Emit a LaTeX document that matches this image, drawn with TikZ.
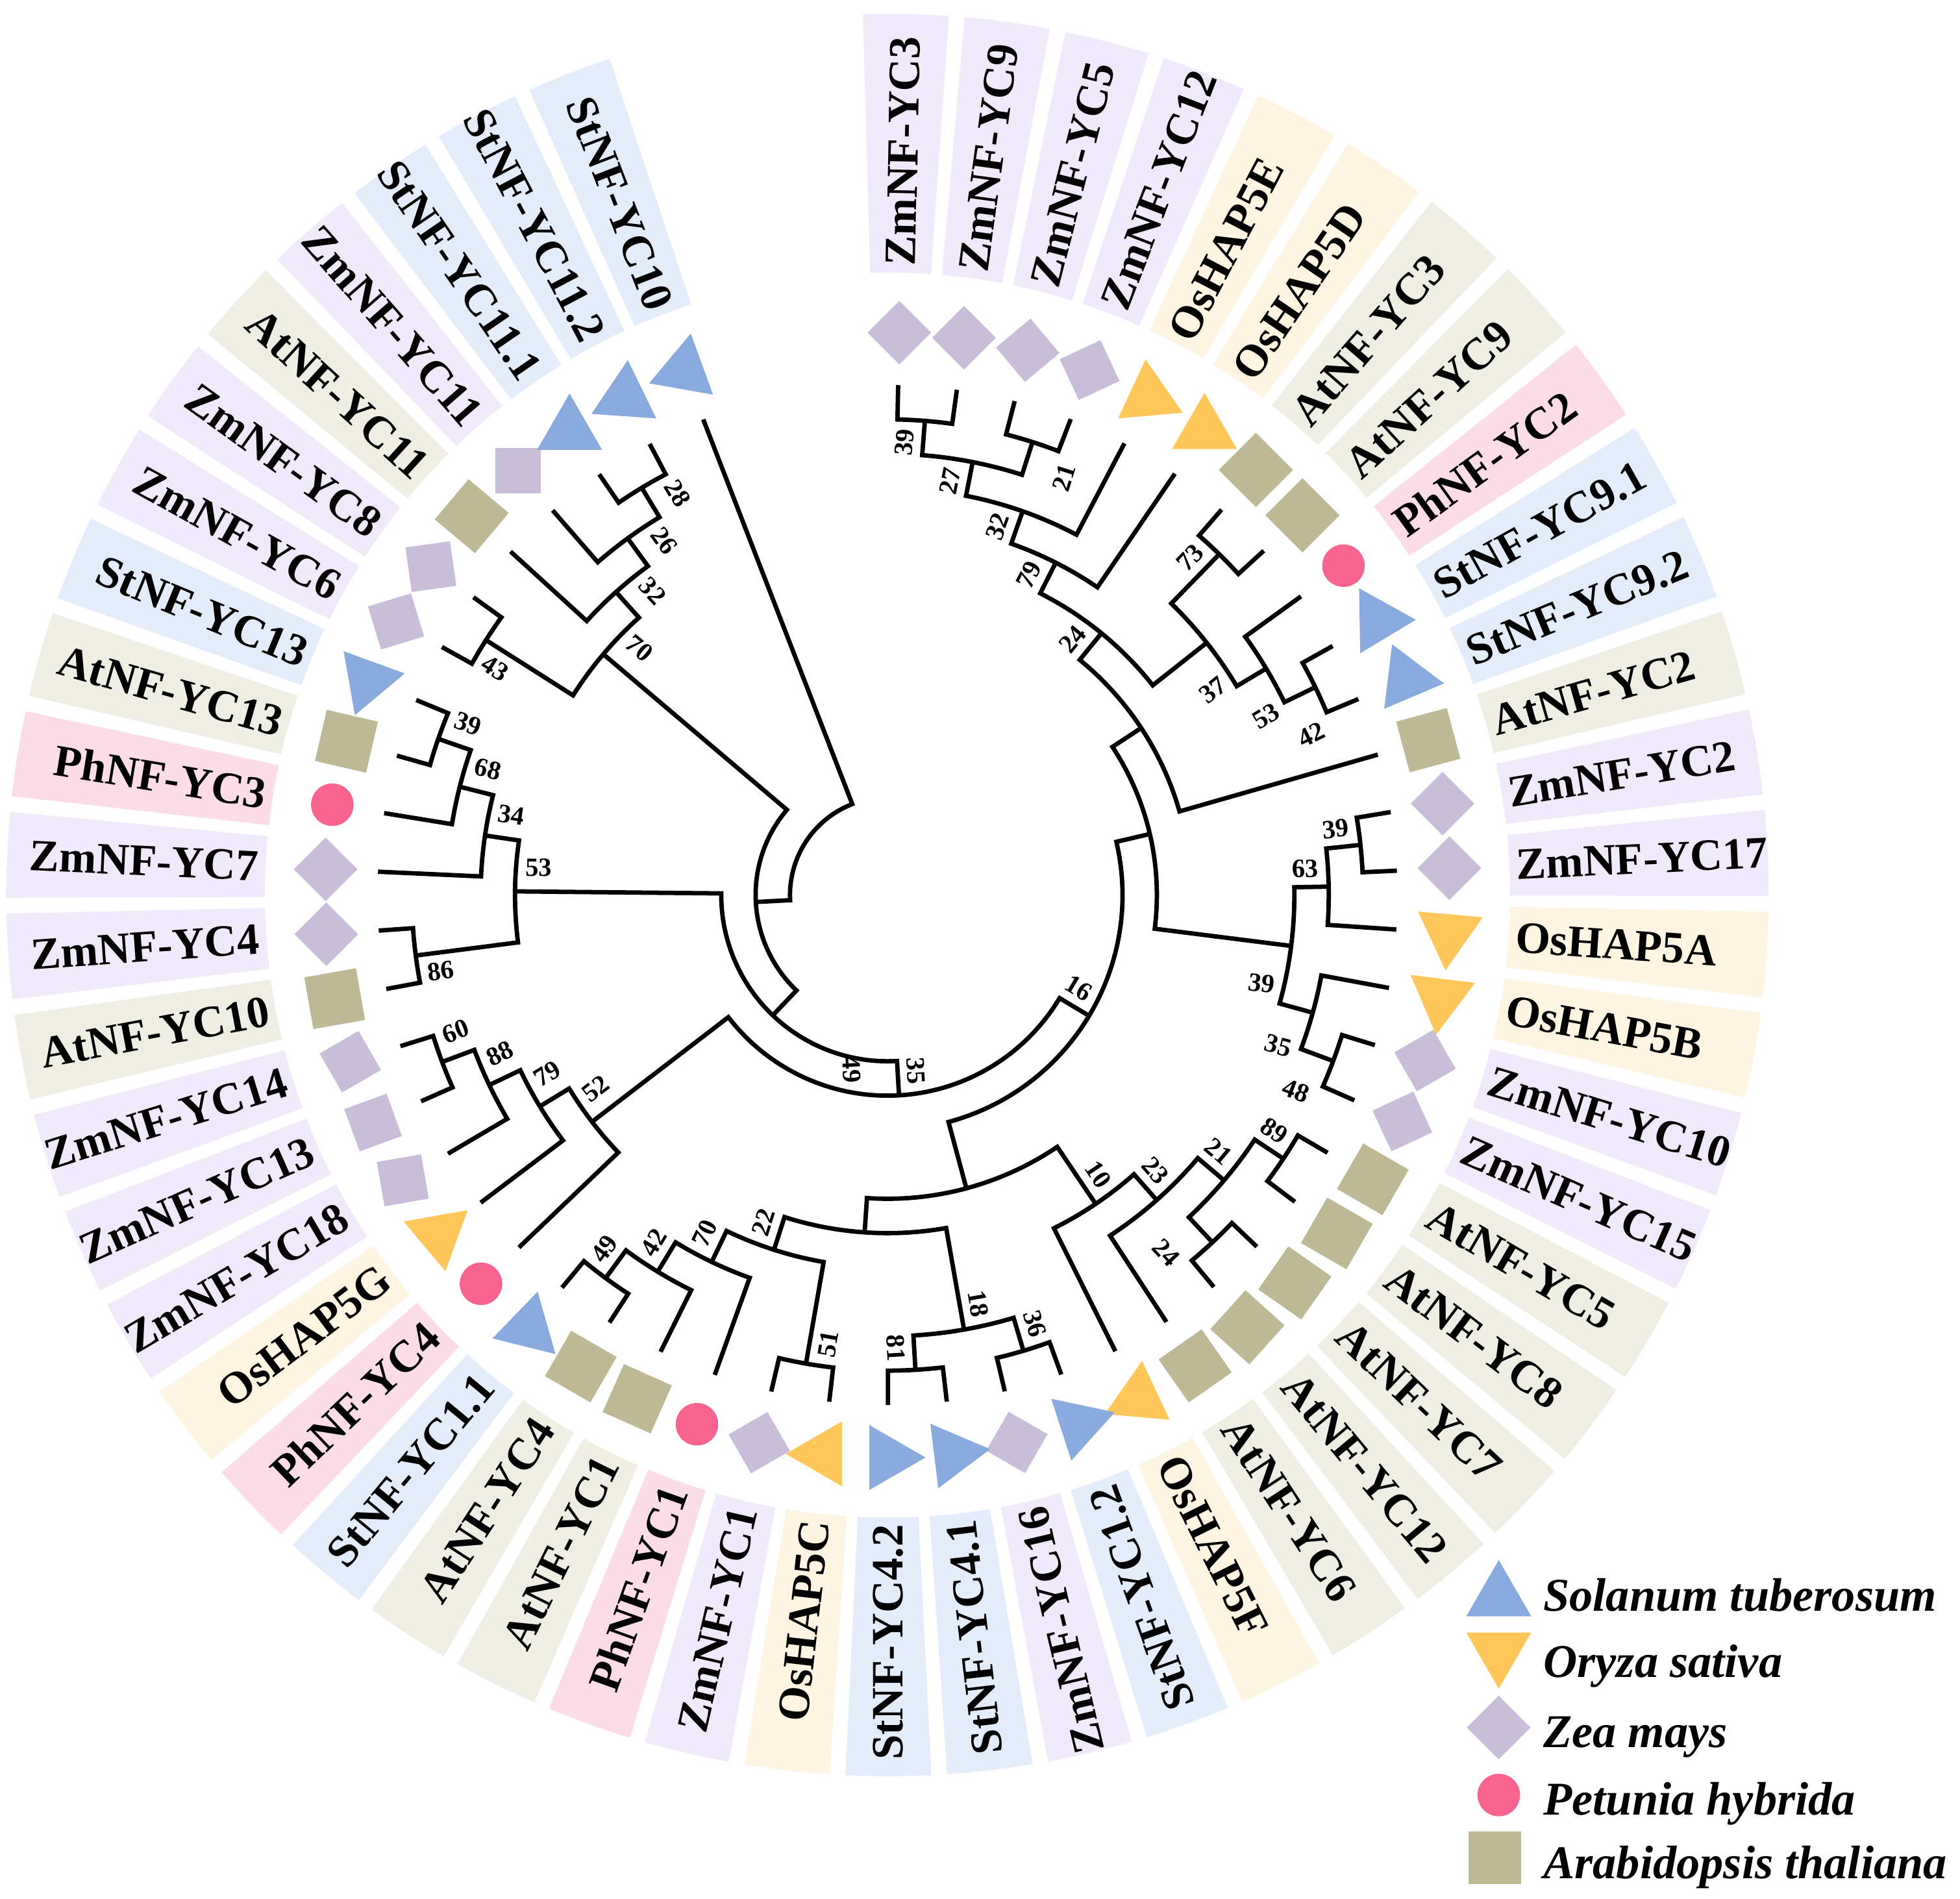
\documentclass[tikz,border=0pt]{standalone}
\usepackage{fontspec}
\setmainfont{Liberation Serif}
\usetikzlibrary{shapes.geometric}

% species colours (marker / label background)
\definecolor{stfill}{HTML}{88AADD}
\definecolor{osfill}{HTML}{FFC75A}
\definecolor{zmfill}{HTML}{C8BEDA}
\definecolor{phfill}{HTML}{F9638F}
\definecolor{atfill}{HTML}{BEB995}
\definecolor{stback}{HTML}{E3ECF8}
\definecolor{osback}{HTML}{FEF4E2}
\definecolor{zmback}{HTML}{EFE9F9}
\definecolor{phback}{HTML}{FBDCE7}
\definecolor{atback}{HTML}{EEEEE5}

\tikzset{
  branch/.style={line width=1pt},
  Stmark/.style={regular polygon, regular polygon sides=3, fill=stfill, minimum size=6mm, inner sep=0pt},
  Osmark/.style={regular polygon, regular polygon sides=3, shape border rotate=180, fill=osfill, minimum size=6mm, inner sep=0pt},
  Zmmark/.style={rectangle, fill=zmfill, minimum size=3.6mm, inner sep=0pt},
  Atmark/.style={rectangle, fill=atfill, minimum size=4.2mm, inner sep=0pt},
  Phmark/.style={circle, fill=phfill, minimum size=3.4mm, inner sep=0pt},
  Stback/.style={fill=stback},
  Osback/.style={fill=osback},
  Zmback/.style={fill=zmback},
  Phback/.style={fill=phback},
  Atback/.style={fill=atback},
  leaflab/.style={font=\fontsize{10.2}{12}\selectfont\bfseries, inner sep=0pt},
  bootlab/.style={font=\fontsize{6}{7}\selectfont\bfseries, inner sep=0.3pt},
  legtext/.style={font=\fontsize{10.7}{13}\selectfont\bfseries\itshape, anchor=base west, inner sep=0pt}
}

% clade: level, angle of child a, level of a, angle of child b, level of b
% (tips sit at 40.8mm, every level is 2.75mm further in)
\newcommand{\addclade}[5]{%
  \pgfmathsetmacro{\cladeR}{40.8-2.75*#1}%
  \pgfmathsetmacro{\cladeA}{40.8-2.75*#3}%
  \pgfmathsetmacro{\cladeB}{40.8-2.75*#5}%
  \draw[branch] (#2:\cladeA) -- (#2:\cladeR) arc[start angle=#2, end angle=#4, radius=\cladeR mm] -- (#4:\cladeB);%
}

% bootstrap value: name, clade angle, clade level, side (+ ccw / - cw), value
\newcommand{\addboot}[5]{%
  \pgfmathsetmacro{\bootR}{40.8-2.75*#3-1.8}%
  \pgfmathsetmacro{\bootA}{#2+(#4)*85/\bootR}%
  \pgfmathsetmacro{\bootT}{cos(#2)>=0 ? #2 : #2+180}%
  \node[bootlab, rotate=\bootT] (#1) at (\bootA:\bootR) {#5};%
}

% leaf: index, angle, species, name, marker rotation
\newcommand{\addleaf}[5]{%
  \fill[#3back] (#2-2.8:49.8) arc[start angle=#2-2.8, end angle=#2+2.8, radius=49.8mm]
    -- (#2+2.8:70.5) arc[start angle=#2+2.8, end angle=#2-2.8, radius=70.5mm] -- cycle;%
  \node[#3mark, rotate=#5] (m#1) at (#2:45) {};%
  \ifdim #2pt>-67pt
    \node[leaflab, anchor=west, rotate=#2] (t#1) at (#2:50.3) {#4};%
  \else
    \node[leaflab, anchor=east, rotate=#2+180] (t#1) at (#2:50.3) {#4};%
  \fi
}

\begin{document}
\begin{tikzpicture}[x=1mm, y=1mm]
  \useasboundingbox (-71.0,-80.3) rectangle (85.8,71.6);

  % Leaves, clockwise from the top
  \addleaf{1}{88.80}{Zm}{ZmNF-YC3}{45}
  \addleaf{2}{82.18}{Zm}{ZmNF-YC9}{45}
  \addleaf{3}{75.56}{Zm}{ZmNF-YC5}{40}
  \addleaf{4}{68.94}{Zm}{ZmNF-YC12}{25}
  \addleaf{5}{62.32}{Os}{OsHAP5E}{185}
  \addleaf{6}{55.70}{Os}{OsHAP5D}{180}
  \addleaf{7}{49.08}{At}{AtNF-YC3}{45}
  \addleaf{8}{42.46}{At}{AtNF-YC9}{45}
  \addleaf{9}{35.84}{Ph}{PhNF-YC2}{0}
  \addleaf{10}{29.22}{St}{StNF-YC9.1}{-89}
  \addleaf{11}{22.60}{St}{StNF-YC9.2}{-97}
  \addleaf{12}{15.98}{At}{AtNF-YC2}{15}
  \addleaf{13}{9.36}{Zm}{ZmNF-YC2}{45}
  \addleaf{14}{2.74}{Zm}{ZmNF-YC17}{45}
  \addleaf{15}{-3.88}{Os}{OsHAP5A}{-5}
  \addleaf{16}{-10.50}{Os}{OsHAP5B}{-7}
  \addleaf{17}{-17.12}{Zm}{ZmNF-YC10}{30}
  \addleaf{18}{-23.74}{Zm}{ZmNF-YC15}{25}
  \addleaf{19}{-30.36}{At}{AtNF-YC5}{60}
  \addleaf{20}{-36.98}{At}{AtNF-YC8}{60}
  \addleaf{21}{-43.60}{At}{AtNF-YC7}{55}
  \addleaf{22}{-50.22}{At}{AtNF-YC12}{48}
  \addleaf{23}{-56.84}{At}{AtNF-YC6}{35}
  \addleaf{24}{-63.46}{Os}{OsHAP5F}{175}
  \addleaf{25}{-70.08}{St}{StNF-YC1.2}{168}
  \addleaf{26}{-76.70}{Zm}{ZmNF-YC16}{60}
  \addleaf{27}{-83.32}{St}{StNF-YC4.1}{-83}
  \addleaf{28}{-89.94}{St}{StNF-YC4.2}{-90}
  \addleaf{29}{-96.56}{Os}{OsHAP5C}{-90}
  \addleaf{30}{-103.18}{Zm}{ZmNF-YC1}{30}
  \addleaf{31}{-109.80}{Ph}{PhNF-YC1}{0}
  \addleaf{32}{-116.42}{At}{AtNF-YC1}{66}
  \addleaf{33}{-123.04}{At}{AtNF-YC4}{60}
  \addleaf{34}{-129.66}{St}{StNF-YC1.1}{-14}
  \addleaf{35}{-136.28}{Ph}{PhNF-YC4}{0}
  \addleaf{36}{-142.90}{Os}{OsHAP5G}{10}
  \addleaf{37}{-149.52}{Zm}{ZmNF-YC18}{10}
  \addleaf{38}{-156.14}{Zm}{ZmNF-YC13}{20}
  \addleaf{39}{-162.76}{Zm}{ZmNF-YC14}{30}
  \addleaf{40}{-169.38}{At}{AtNF-YC10}{10}
  \addleaf{41}{-176.00}{Zm}{ZmNF-YC4}{45}
  \addleaf{42}{-182.62}{Zm}{ZmNF-YC7}{45}
  \addleaf{43}{-189.24}{Ph}{PhNF-YC3}{0}
  \addleaf{44}{-195.86}{At}{AtNF-YC13}{-13}
  \addleaf{45}{-202.48}{St}{StNF-YC13}{-80}
  \addleaf{46}{-209.10}{Zm}{ZmNF-YC6}{17}
  \addleaf{47}{-215.72}{Zm}{ZmNF-YC8}{8}
  \addleaf{48}{-222.34}{At}{AtNF-YC11}{50}
  \addleaf{49}{-228.96}{Zm}{ZmNF-YC11}{0}
  \addleaf{50}{-235.58}{St}{StNF-YC11.1}{0}
  \addleaf{51}{-242.20}{St}{StNF-YC11.2}{-4}
  \addleaf{52}{-248.82}{St}{StNF-YC10}{-10}

  % Top right clade
  \addclade{1}{88.80}{0}{82.18}{0}      % YC3, YC9
  \addclade{1}{75.56}{0}{68.94}{0}      % YC5, YC12
  \addclade{2}{85.49}{1}{72.25}{1}
  \addclade{3}{78.87}{2}{62.32}{0}      % + OsHAP5E
  \addclade{4}{70.60}{3}{55.70}{0}      % + OsHAP5D
  \addclade{1}{49.08}{0}{42.46}{0}      % AtNF-YC3, YC9
  \addclade{1}{29.22}{0}{22.60}{0}      % StNF-YC9.1, 9.2
  \addclade{2}{35.84}{0}{25.91}{1}      % + PhNF-YC2
  \addclade{3}{45.77}{1}{30.88}{2}
  \addclade{5}{63.15}{4}{38.32}{3}
  \addclade{6}{50.74}{5}{15.98}{0}      % + AtNF-YC2
  % Right clade
  \addclade{1}{9.36}{0}{2.74}{0}        % ZmNF-YC2, YC17
  \addclade{2}{6.05}{1}{-3.88}{0}       % + OsHAP5A
  \addclade{1}{-17.12}{0}{-23.74}{0}    % ZmNF-YC10, YC15
  \addclade{2}{-10.50}{0}{-20.43}{1}    % + OsHAP5B
  \addclade{3}{1.09}{2}{-15.47}{2}
  \addclade{7}{33.36}{6}{-7.19}{3}
  % Bottom right clade
  \addclade{1}{-30.36}{0}{-36.98}{0}    % AtNF-YC5, YC8
  \addclade{1}{-43.60}{0}{-50.22}{0}    % AtNF-YC7, YC12
  \addclade{2}{-33.67}{1}{-46.91}{1}
  \addclade{3}{-40.29}{2}{-56.84}{0}    % + AtNF-YC6
  \addclade{4}{-48.57}{3}{-63.46}{0}    % + OsHAP5F
  % Bottom clade
  \addclade{1}{-70.08}{0}{-76.70}{0}    % StNF-YC1.2, ZmNF-YC16
  \addclade{1}{-83.32}{0}{-89.94}{0}    % StNF-YC4.1, 4.2
  \addclade{2}{-73.39}{1}{-86.63}{1}
  \addclade{1}{-96.56}{0}{-103.18}{0}   % OsHAP5C, ZmNF-YC1
  \addclade{1}{-123.04}{0}{-129.66}{0}  % AtNF-YC4, StNF-YC1.1
  \addclade{2}{-116.42}{0}{-126.35}{1}  % + AtNF-YC1
  \addclade{3}{-109.80}{0}{-121.39}{2}  % + PhNF-YC1
  \addclade{4}{-99.87}{1}{-115.60}{3}
  \addclade{5}{-80.01}{2}{-107.74}{4}
  \addclade{6}{-56.02}{4}{-93.88}{5}
  \addclade{8}{13.09}{7}{-74.95}{6}
  % Lower left clade
  \addclade{1}{-156.14}{0}{-162.76}{0}  % ZmNF-YC13, YC14
  \addclade{2}{-149.52}{0}{-159.45}{1}  % + ZmNF-YC18
  \addclade{3}{-142.90}{0}{-154.49}{2}  % + OsHAP5G
  \addclade{4}{-136.28}{0}{-148.70}{3}  % + PhNF-YC4
  \addclade{9}{-30.93}{8}{-142.49}{4}
  % Left clade
  \addclade{1}{-169.38}{0}{-176.00}{0}  % AtNF-YC10, ZmNF-YC4
  \addclade{1}{-195.86}{0}{-202.48}{0}  % AtNF-YC13, StNF-YC13
  \addclade{2}{-189.24}{0}{-199.17}{1}  % + PhNF-YC3
  \addclade{3}{-182.62}{0}{-194.21}{2}  % + ZmNF-YC7
  \addclade{4}{-172.69}{1}{-188.42}{3}
  \addclade{10}{-86.71}{9}{-180.56}{4}
  % Top left clade and root
  \addclade{1}{-209.10}{0}{-215.72}{0}  % ZmNF-YC6, YC8
  \addclade{1}{-235.58}{0}{-242.20}{0}  % StNF-YC11.1, 11.2
  \addclade{2}{-228.96}{0}{-238.89}{1}  % + ZmNF-YC11
  \addclade{3}{-222.34}{0}{-233.93}{2}  % + AtNF-YC11
  \addclade{4}{-212.41}{1}{-228.14}{3}
  \addclade{11}{-133.64}{10}{-220.28}{4}
  \addclade{12}{-176.96}{11}{-248.82}{0} % root, + StNF-YC10

  % Bootstrap values
  \addboot{b1}{85.49}{1}{1}{39}
  \addboot{b2}{72.25}{1}{-2.2}{21}
  \addboot{b3}{78.87}{2}{1}{27}
  \addboot{b4}{70.60}{3}{1}{32}
  \addboot{b5}{63.15}{4}{1}{79}
  \addboot{b6}{50.74}{5}{1}{24}
  \addboot{b7}{45.77}{1}{1}{73}
  \addboot{b8}{38.32}{3}{-2.2}{37}
  \addboot{b9}{30.88}{2}{-2.2}{53}
  \addboot{b10}{25.91}{1}{-2.2}{42}
  \addboot{b11}{6.05}{1}{1}{39}
  \addboot{b12}{1.09}{2}{1}{63}
  \addboot{b13}{-7.19}{3}{-2.2}{39}
  \addboot{b14}{-15.47}{2}{-2.2}{35}
  \addboot{b15}{-20.43}{1}{-2.2}{48}
  \addboot{b16}{-33.67}{1}{1}{89}
  \addboot{b17}{-40.29}{2}{1}{21}
  \addboot{b18}{-48.57}{3}{1}{23}
  \addboot{b19}{-56.02}{4}{1}{10}
  \addboot{b20}{-46.91}{1}{-2.2}{24}
  \addboot{b21}{-73.39}{1}{1}{36}
  \addboot{b22}{-80.01}{2}{1}{18}
  \addboot{b23}{-86.63}{1}{-1}{81}
  \addboot{b24}{-99.87}{1}{1}{51}
  \addboot{b25}{-107.74}{4}{-1}{22}
  \addboot{b26}{-115.60}{3}{-1}{70}
  \addboot{b27}{-121.39}{2}{-1}{42}
  \addboot{b28}{-126.35}{1}{-1}{49}
  \addboot{b29}{-142.49}{4}{-1.3}{52}
  \addboot{b30}{-148.70}{3}{-1.3}{79}
  \addboot{b31}{-154.49}{2}{-1.3}{88}
  \addboot{b32}{-159.45}{1}{-1.3}{60}
  \addboot{b33}{-172.69}{1}{1}{86}
  \addboot{b34}{-180.56}{4}{-1.3}{53}
  \addboot{b35}{-188.42}{3}{-1.3}{34}
  \addboot{b36}{-194.21}{2}{-1.3}{68}
  \addboot{b37}{-199.17}{1}{-1.3}{39}
  \addboot{b38}{-212.41}{1}{1}{43}
  \addboot{b39}{-220.28}{4}{-1.5}{70}
  \addboot{b40}{-228.14}{3}{-1.5}{32}
  \addboot{b41}{-233.93}{2}{-1.5}{26}
  \addboot{b42}{-238.89}{1}{-1.5}{28}
  \addboot{b43}{-30.93}{8}{1}{16}
  \addboot{b44}{-86.71}{9}{1}{35}
  \addboot{b45}{-86.71}{9}{-2.5}{49}

  % Legend
  \node[Stmark] (legSt) at (48.9,-56.2) {};
  \node[legtext] (legStT) at (52.4,-57.3) {Solanum tuberosum};
  \node[Osmark] (legOs) at (48.9,-60.5) {};
  \node[legtext] (legOsT) at (52.4,-62.6) {Oryza sativa};
  \node[Zmmark, rotate=45] (legZm) at (48.9,-66.6) {};
  \node[legtext] (legZmT) at (52.4,-68.2) {Zea mays};
  \node[Phmark] (legPh) at (48.9,-72.0) {};
  \node[legtext] (legPhT) at (52.4,-73.6) {Petunia hybrida};
  \node[Atmark] (legAt) at (48.6,-77.0) {};
  \node[legtext] (legAtT) at (52.4,-78.7) {Arabidopsis thaliana};
\end{tikzpicture}
\end{document}
